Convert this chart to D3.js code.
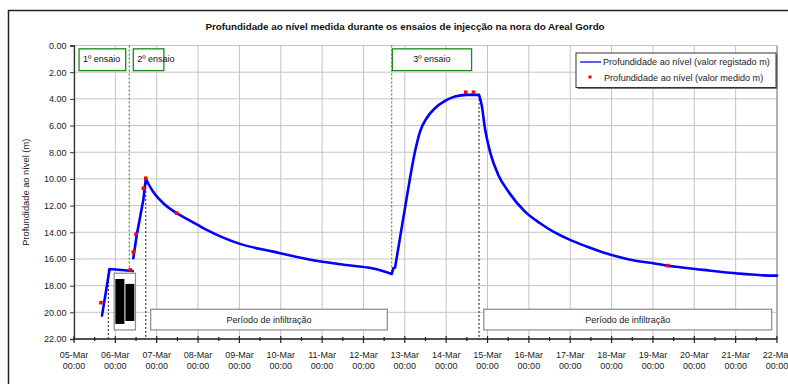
<!DOCTYPE html>
<html>
<head>
<meta charset="utf-8">
<script src="https://cdn.jsdelivr.net/npm/d3@7"></script>
<style>
  body { margin: 0; background: #fff; }
  svg { display: block; font-family: "Liberation Sans", Arial, sans-serif; }
</style>
</head>
<body>
<div id="chart"></div>
<script>
// registered level (continuous logger), null = gap in the record
const registadoTimes = [
  "2007-03-05 16:15", "2007-03-05 20:40", "2007-03-06 10:05", null,
  "2007-03-06 10:25", "2007-03-06 12:25", "2007-03-06 16:15", "2007-03-06 17:40",
  "2007-03-06 20:05", "2007-03-06 23:00", "2007-03-07 03:50", "2007-03-07 11:35",
  "2007-03-07 19:20", "2007-03-08 05:00", "2007-03-08 14:35", "2007-03-09 00:20",
  "2007-03-09 19:40", "2007-03-10 15:05", "2007-03-11 10:25", "2007-03-12 05:40",
  "2007-03-12 16:25", "2007-03-12 17:20", "2007-03-12 18:20", "2007-03-12 21:10",
  "2007-03-13 00:05", "2007-03-13 03:00", "2007-03-13 05:55", "2007-03-13 08:50",
  "2007-03-13 12:40", "2007-03-13 17:30", "2007-03-13 23:20", "2007-03-14 05:05",
  "2007-03-14 11:55", "2007-03-14 19:05", "2007-03-14 20:35", "2007-03-14 22:30",
  "2007-03-15 01:25", "2007-03-15 06:15", "2007-03-15 12:05", "2007-03-15 21:45",
  "2007-03-16 06:30", "2007-03-16 14:10", "2007-03-16 23:55", "2007-03-17 09:35",
  "2007-03-17 19:10", "2007-03-18 04:55", "2007-03-18 14:35", "2007-03-19 00:10",
  "2007-03-19 08:00", "2007-03-19 15:40", "2007-03-20 05:10", "2007-03-20 18:50",
  "2007-03-21 06:25", "2007-03-21 16:05", "2007-03-22 00:00"
];
const registadoValues = [
  20.25, 16.75, 16.90, null,
  15.95, 14.20, 11.57, 10.00,
  10.58, 11.15, 11.82, 12.57,
  13.12, 13.82, 14.40, 14.87,
  15.45, 16.00, 16.40, 16.72,
  17.12, 16.70, 16.65, 14.45,
  12.20, 9.95, 7.95, 6.45,
  5.45, 4.70, 4.15, 3.83,
  3.70, 3.70, 4.45, 6.20,
  7.95, 9.70, 10.95, 12.45,
  13.32, 13.95, 14.57, 15.07,
  15.52, 15.87, 16.15, 16.32,
  16.50, 16.62, 16.82, 17.02,
  17.14, 17.23, 17.25
];
// indices of the record where the line has a sharp change (pump on / off)
const cornerIdx = [0, 1, 2, 4, 5, 6, 7, 20, 21, 22, 33, 54];

// manual measurements
const medidoTimes = [
  "2007-03-05 15:40", "2007-03-06 08:40", "2007-03-06 10:25", "2007-03-06 12:00",
  "2007-03-06 16:15", "2007-03-06 17:40", "2007-03-07 11:35", "2007-03-14 11:20",
  "2007-03-14 15:50", "2007-03-19 08:40"
];
const medidoValues = [19.28, 16.82, 15.48, 14.15, 10.70, 9.95, 12.57, 3.50, 3.50, 16.50];

// test starts (green) and ends (black)
const inicioTimes = ["2007-03-06 08:05", "2007-03-12 16:25"];
const inicioDepths = [16.8, 17.12];
const fimTimes = ["2007-03-05 19:55", "2007-03-06 17:40", "2007-03-14 19:05"];
const fimDepths = [16.75, 10.0, 3.7];

const ensaioLabels = ["1º ensaio", "2º ensaio", "3º ensaio"];
const ensaioStart = ["2007-03-05 02:55", "2007-03-06 10:25", "2007-03-12 16:45"];
const ensaioEnd = ["2007-03-06 06:00", "2007-03-07 04:10", "2007-03-14 14:45"];

const infiltLabel = "Período de infiltração";
const infiltStart = ["2007-03-06 20:30", "2007-03-14 21:50"];
const infiltEnd = ["2007-03-12 13:50", "2007-03-21 20:55"];

const yTicks = [0, 2, 4, 6, 8, 10, 12, 14, 16, 18, 20, 22];
const xStart = "2007-03-05 00:00", xEnd = "2007-03-22 00:00";

const titleText = "Profundidade ao nível medida durante os ensaios de injecção na nora do Areal Gordo";
const yLabel = "Profundidade ao nível (m)";
const legendLabels = ["Profundidade ao nível (valor registado m)", "Profundidade ao nível (valor medido m)"];

const W = 788, H = 384;
const margin = { left: 74, top: 45.5, right: 11, bottom: 45 };
const parse = d3.timeParse("%Y-%m-%d %H:%M");

const svg = d3.select("#chart").append("svg").attr("width", W).attr("height", H);

svg.append("rect").attr("x", 8.5).attr("y", 10.5).attr("width", 800).attr("height", 400)
  .attr("fill", "#fff").attr("stroke", "#222").attr("stroke-width", 1.5);

const x = d3.scaleTime()
  .domain([parse(xStart), parse(xEnd)])
  .range([margin.left, W - margin.right]);
const y = d3.scaleLinear()
  .domain([0, 22])
  .range([margin.top, H - margin.bottom]);

svg.append("text")
  .attr("x", 405).attr("y", 29.5)
  .attr("text-anchor", "middle").attr("font-size", 9.8).attr("font-weight", "bold")
  .attr("fill", "#111").text(titleText);

// gridlines
const days = d3.timeDay.range(parse(xStart), d3.timeDay.offset(parse(xEnd), 1));
svg.append("g").selectAll("line").data(days).join("line")
  .attr("x1", d => x(d)).attr("x2", d => x(d))
  .attr("y1", y(0)).attr("y2", y(22))
  .attr("stroke", "#c4c4c4").attr("stroke-width", 1);
svg.append("g").selectAll("line").data(yTicks).join("line")
  .attr("x1", x.range()[0]).attr("x2", x.range()[1])
  .attr("y1", d => y(d)).attr("y2", d => y(d))
  .attr("stroke", "#c4c4c4").attr("stroke-width", 1);
svg.append("line")
  .attr("x1", x.range()[1]).attr("x2", x.range()[1])
  .attr("y1", y(0)).attr("y2", y(22))
  .attr("stroke", "#999").attr("stroke-width", 1.3);

// vertical markers
svg.append("g").selectAll("line").data(inicioTimes).join("line")
  .attr("x1", d => x(parse(d))).attr("x2", d => x(parse(d)))
  .attr("y1", y(0)).attr("y2", (d, i) => y(inicioDepths[i]))
  .attr("stroke", "#118811").attr("stroke-width", 1).attr("stroke-dasharray", "2,2");
svg.append("g").selectAll("line").data(fimTimes).join("line")
  .attr("x1", d => x(parse(d))).attr("x2", d => x(parse(d)))
  .attr("y1", (d, i) => y(fimDepths[i])).attr("y2", y(22))
  .attr("stroke", "#111").attr("stroke-width", 1).attr("stroke-dasharray", "2,2");

// infiltration boxes
infiltStart.forEach((s, i) => {
  const x0 = x(parse(s)), x1 = x(parse(infiltEnd[i]));
  svg.append("rect").attr("x", x0).attr("y", y(19.77)).attr("width", x1 - x0)
    .attr("height", y(21.32) - y(19.77))
    .attr("fill", "#fff").attr("stroke", "#8a8a8a").attr("stroke-width", 1.2);
  svg.append("text").attr("x", (x0 + x1) / 2).attr("y", y(20.55) + 3.2)
    .attr("text-anchor", "middle").attr("font-size", 9).attr("fill", "#222").text(infiltLabel);
});

// small inset with black blocks (as in the source figure)
const inset = svg.append("g");
inset.append("rect")
  .attr("x", x(parse("2007-03-05 23:20"))).attr("y", y(17.07))
  .attr("width", x(parse("2007-03-06 11:40")) - x(parse("2007-03-05 23:20")))
  .attr("height", y(21.32) - y(17.07))
  .attr("fill", "#fff").attr("stroke", "#8a8a8a").attr("stroke-width", 1.2);
inset.append("rect")
  .attr("x", x(parse("2007-03-06 00:00"))).attr("y", y(17.5))
  .attr("width", x(parse("2007-03-06 05:15")) - x(parse("2007-03-06 00:00")))
  .attr("height", y(20.87) - y(17.5)).attr("fill", "#000");
inset.append("rect")
  .attr("x", x(parse("2007-03-06 05:50"))).attr("y", y(17.87))
  .attr("width", x(parse("2007-03-06 11:00")) - x(parse("2007-03-06 05:50")))
  .attr("height", y(20.65) - y(17.87)).attr("fill", "#000");

// registered line: straight between sharp corners, smooth in recession / recovery
const regData = registadoTimes.map((t, i) => ({ t: t ? parse(t) : null, v: registadoValues[i] }));
const line = d3.line()
  .x(d => x(d.t)).y(d => y(d.v))
  .curve(d3.curveMonotoneX);
const pieces = [];
for (let k = 0; k < cornerIdx.length - 1; k++) {
  const seg = regData.slice(cornerIdx[k], cornerIdx[k + 1] + 1);
  if (seg.every(d => d.t !== null)) pieces.push(seg);
}
svg.append("path")
  .attr("d", pieces.map(p => line(p)).join(""))
  .attr("fill", "none")
  .attr("stroke", "#0000ff").attr("stroke-width", 2.6)
  .attr("stroke-linejoin", "round").attr("stroke-linecap", "round");

// measured points
svg.append("g").selectAll("rect").data(medidoTimes).join("rect")
  .attr("x", d => x(parse(d)) - 1.8).attr("y", (d, i) => y(medidoValues[i]) - 1.8)
  .attr("width", 3.6).attr("height", 3.6).attr("fill", "#ff0000");

// test label boxes
ensaioLabels.forEach((lab, i) => {
  const x0 = x(parse(ensaioStart[i])), x1 = x(parse(ensaioEnd[i]));
  svg.append("rect").attr("x", x0).attr("y", y(0.25)).attr("width", x1 - x0)
    .attr("height", y(1.88) - y(0.25))
    .attr("fill", "#fff").attr("stroke", "#1a8a1a").attr("stroke-width", 1.3);
  svg.append("text").attr("x", i === 2 ? (x0 + x1) / 2 : x0 + 4).attr("y", y(1.0) + 3.2)
    .attr("text-anchor", i === 2 ? "middle" : "start")
    .attr("font-size", 9).attr("fill", "#111").text(lab);
});

// axes
const yAxis = svg.append("g").attr("transform", `translate(${margin.left},0)`)
  .call(d3.axisLeft(y).tickValues(yTicks).tickFormat(d3.format(".2f")).tickSize(4).tickPadding(3.5));
yAxis.select(".domain").attr("stroke", "#333").attr("stroke-width", 1.3);
yAxis.selectAll(".tick line").attr("stroke", "#333");
yAxis.selectAll("text").attr("font-size", 9).attr("fill", "#222")
  .attr("font-family", "'Liberation Sans', Arial, sans-serif");

const xg = svg.append("g").attr("transform", `translate(0,${y(22)})`);
xg.append("line").attr("x1", x.range()[0]).attr("x2", x.range()[1])
  .attr("stroke", "#222").attr("stroke-width", 1.6);
const halfDays = d3.timeHour.every(12).range(parse(xStart), d3.timeHour.offset(parse(xEnd), 1));
xg.selectAll("line.tk").data(halfDays).join("line").attr("class", "tk")
  .attr("x1", d => x(d)).attr("x2", d => x(d))
  .attr("y1", d => d.getHours() === 0 ? -3 : -2)
  .attr("y2", d => d.getHours() === 0 ? 4 : 2)
  .attr("stroke", "#222").attr("stroke-width", 1.2);
const fmtDay = d3.timeFormat("%d-%b");
const tl = xg.selectAll("text").data(days.filter(d => d <= parse(xEnd))).join("text")
  .attr("text-anchor", "middle").attr("font-size", 9).attr("fill", "#222");
tl.append("tspan").attr("x", d => x(d)).attr("y", 18.5).text(d => fmtDay(d));
tl.append("tspan").attr("x", d => x(d)).attr("y", 30).text("00:00");

svg.append("text")
  .attr("transform", `translate(28.5,${(y(0) + y(22)) / 2}) rotate(-90)`)
  .attr("text-anchor", "middle").attr("font-size", 9.3).attr("fill", "#222").text(yLabel);

// legend
const lg = svg.append("g").attr("transform", "translate(576,53)");
lg.append("rect").attr("x", 1.5).attr("y", 1.5).attr("width", 200).attr("height", 34.5).attr("fill", "#777");
lg.append("rect").attr("width", 200).attr("height", 34.5)
  .attr("fill", "#fff").attr("stroke", "#333").attr("stroke-width", 1);
lg.append("line").attr("x1", 4).attr("x2", 25).attr("y1", 9).attr("y2", 9)
  .attr("stroke", "#0000ff").attr("stroke-width", 1.3);
lg.append("rect").attr("x", 12.5).attr("y", 22.5).attr("width", 3).attr("height", 3).attr("fill", "#ff0000");
legendLabels.forEach((t, i) => {
  lg.append("text").attr("x", i === 0 ? 27 : 28).attr("y", 12.3 + i * 15.5)
    .attr("font-size", 9.1).attr("fill", "#222").text(t);
});
</script>
</body>
</html>
